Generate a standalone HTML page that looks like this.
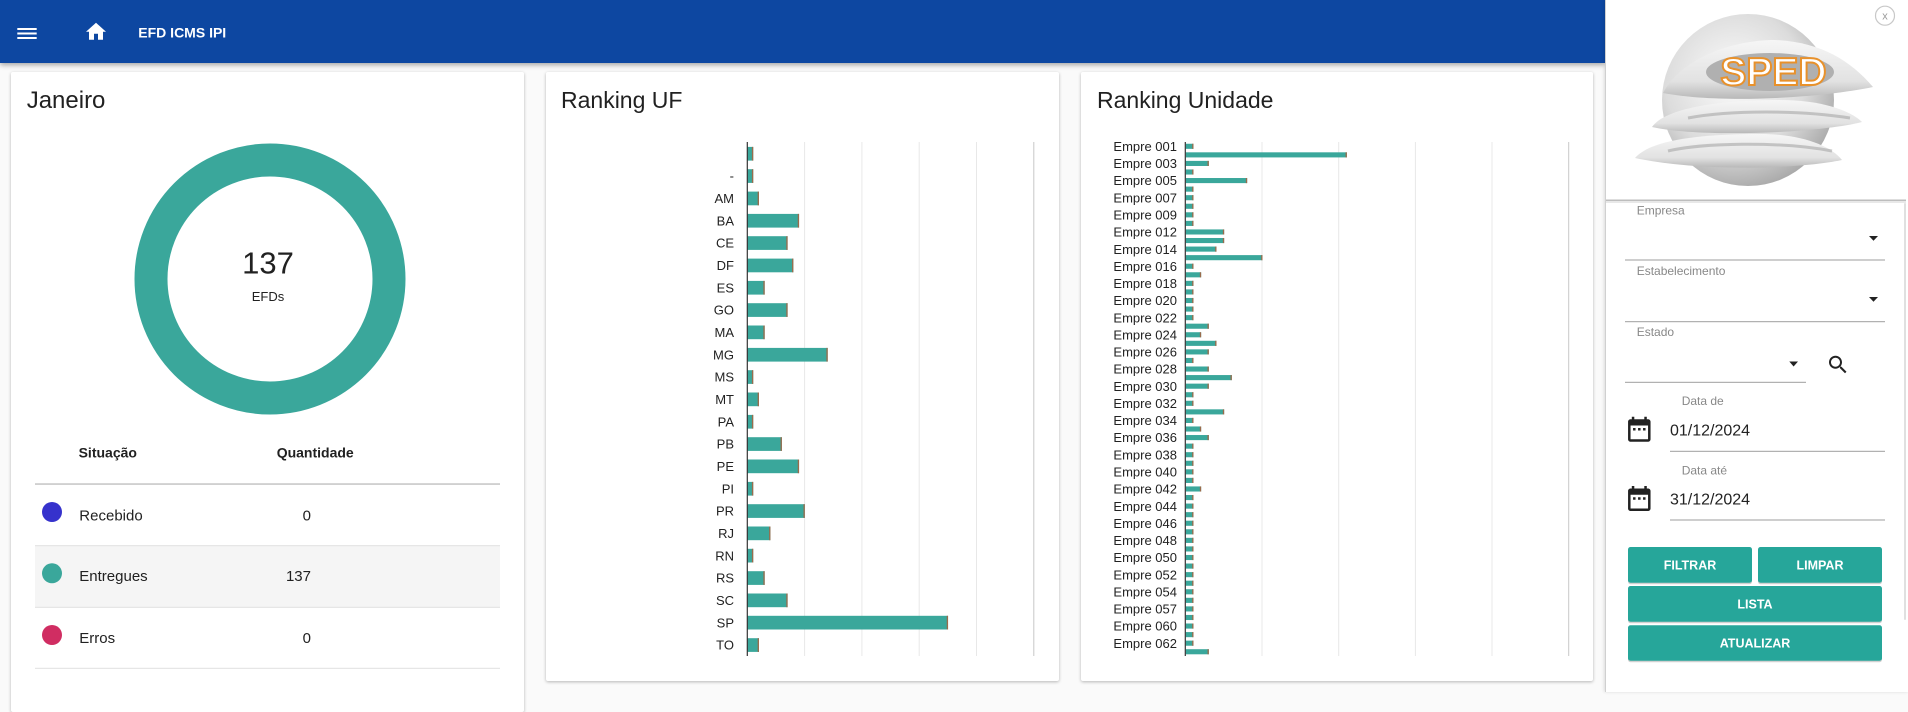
<!DOCTYPE html>
<html><head><meta charset="utf-8">
<style>
html,body{margin:0;padding:0}
body{width:1908px;height:692px;overflow:hidden;background:#fafafa;position:relative;font-family:"Liberation Sans",sans-serif}
.hdr{position:absolute;left:0;top:0;width:1605px;height:63px;background:#0d47a1;box-shadow:0 2px 5px rgba(0,0,0,.35);z-index:2}
.card{position:absolute;background:#fff;box-shadow:0 1px 3px rgba(0,0,0,.28);border-radius:2px;z-index:1}
.panel{position:absolute;left:1605px;top:0;width:303px;height:692px;background:#fff;border-left:1px solid #d0d0d0;box-shadow:-1px 0 3px rgba(0,0,0,.12);z-index:3}
svg.ov{position:absolute;left:0;top:0;z-index:5}
</style></head><body>
<div class="hdr"></div>
<div class="card" style="left:11px;top:72px;width:513px;height:640px"></div>
<div class="card" style="left:546px;top:72px;width:513px;height:609px"></div>
<div class="card" style="left:1081px;top:72px;width:512px;height:609px"></div>
<div class="panel"></div>
<svg class="ov" width="1908" height="692" viewBox="0 0 1908 692" font-family="Liberation Sans, sans-serif">
<defs>
<radialGradient id="sph" cx="0.42" cy="0.38" r="0.68"><stop offset="0" stop-color="#fdfdfd"/><stop offset="0.6" stop-color="#dcdcdc"/><stop offset="1" stop-color="#a2a2a2"/></radialGradient>
<linearGradient id="band" x1="0" y1="0" x2="0" y2="1"><stop offset="0" stop-color="#f6f6f6"/><stop offset="0.7" stop-color="#e2e2e2"/><stop offset="1" stop-color="#b8b8b8"/></linearGradient>
<clipPath id="plotclip"><rect x="1080" y="142" width="120" height="520"/></clipPath>
</defs>
<!-- header content -->
<rect x="17.3" y="28" width="19.4" height="2" fill="#fff"/>
<rect x="17.3" y="32.5" width="19.4" height="2" fill="#fff"/>
<rect x="17.3" y="37" width="19.4" height="2" fill="#fff"/>
<path transform="translate(84,19.7)" d="M10 20v-6h4v6h5v-8h3L12 3 2 12h3v8z" fill="#fff"/>
<text x="138.3" y="37.3" font-size="14" font-weight="bold" fill="#fff">EFD ICMS IPI</text>

<!-- Janeiro card -->
<text x="26.7" y="108" font-size="24" fill="#212121">Janeiro</text>
<circle cx="270" cy="279" r="119" fill="none" stroke="#3aa79b" stroke-width="33"/>
<text x="268" y="273.3" font-size="31" fill="#212121" text-anchor="middle">137</text>
<text x="268" y="301" font-size="13" fill="#212121" text-anchor="middle">EFDs</text>
<text x="78.6" y="457.3" font-size="14" font-weight="bold" fill="#212121">Situação</text>
<text x="276.7" y="457.3" font-size="14" font-weight="bold" fill="#212121">Quantidade</text>
<rect x="35" y="483.3" width="465" height="1.5" fill="#c4c4c4"/>
<rect x="35" y="545.7" width="465" height="61.6" fill="#f5f5f5"/>
<rect x="35" y="545.2" width="465" height="1" fill="#e0e0e0"/>
<rect x="35" y="606.8" width="465" height="1" fill="#e0e0e0"/>
<rect x="35" y="667.8" width="465" height="1" fill="#e0e0e0"/>
<circle cx="52" cy="512" r="10" fill="#3632cc"/>
<circle cx="52" cy="573.3" r="10" fill="#3aa79b"/>
<circle cx="52" cy="635" r="10" fill="#d02d62"/>
<text x="79.3" y="520.3" font-size="15" fill="#212121">Recebido</text>
<text x="79.3" y="581" font-size="15" fill="#212121">Entregues</text>
<text x="79.3" y="643" font-size="15" fill="#212121">Erros</text>
<text x="311" y="520.3" font-size="15" fill="#212121" text-anchor="end">0</text>
<text x="311" y="581" font-size="15" fill="#212121" text-anchor="end">137</text>
<text x="311" y="643" font-size="15" fill="#212121" text-anchor="end">0</text>

<!-- Ranking UF -->
<text x="561" y="108" font-size="23" fill="#212121">Ranking UF</text>
<g stroke-width="1">
<line x1="804.6" y1="142" x2="804.6" y2="656" stroke="#e8e8e8"/>
<line x1="861.9" y1="142" x2="861.9" y2="656" stroke="#e8e8e8"/>
<line x1="919.2" y1="142" x2="919.2" y2="656" stroke="#e8e8e8"/>
<line x1="976.5" y1="142" x2="976.5" y2="656" stroke="#e8e8e8"/>
<line x1="1033.8" y1="142" x2="1033.8" y2="656" stroke="#c8c8c8"/>
</g>
<g transform="translate(747.5,0)">
<g fill="#3aa79b">
<rect y="146.9" height="13.7" width="5.73"/><rect y="169.2" height="13.7" width="5.73"/><rect y="191.6" height="13.7" width="11.46"/><rect y="213.9" height="13.7" width="51.57"/><rect y="236.2" height="13.7" width="40.11"/><rect y="258.6" height="13.7" width="45.84"/><rect y="280.9" height="13.7" width="17.19"/><rect y="303.2" height="13.7" width="40.11"/><rect y="325.5" height="13.7" width="17.19"/><rect y="347.9" height="13.7" width="80.22"/><rect y="370.2" height="13.7" width="5.73"/><rect y="392.5" height="13.7" width="11.46"/><rect y="414.9" height="13.7" width="5.73"/><rect y="437.2" height="13.7" width="34.38"/><rect y="459.5" height="13.7" width="51.57"/><rect y="481.9" height="13.7" width="5.73"/><rect y="504.2" height="13.7" width="57.3"/><rect y="526.5" height="13.7" width="22.92"/><rect y="548.8" height="13.7" width="5.73"/><rect y="571.2" height="13.7" width="17.19"/><rect y="593.5" height="13.7" width="40.11"/><rect y="615.8" height="13.7" width="200.55"/><rect y="638.2" height="13.7" width="11.46"/>
</g>
<g fill="#9b6b4b">
<rect x="4.43" y="146.9" height="13.7" width="1.3"/><rect x="4.43" y="169.2" height="13.7" width="1.3"/><rect x="10.16" y="191.6" height="13.7" width="1.3"/><rect x="50.27" y="213.9" height="13.7" width="1.3"/><rect x="38.81" y="236.2" height="13.7" width="1.3"/><rect x="44.54" y="258.6" height="13.7" width="1.3"/><rect x="15.89" y="280.9" height="13.7" width="1.3"/><rect x="38.81" y="303.2" height="13.7" width="1.3"/><rect x="15.89" y="325.5" height="13.7" width="1.3"/><rect x="78.92" y="347.9" height="13.7" width="1.3"/><rect x="4.43" y="370.2" height="13.7" width="1.3"/><rect x="10.16" y="392.5" height="13.7" width="1.3"/><rect x="4.43" y="414.9" height="13.7" width="1.3"/><rect x="33.08" y="437.2" height="13.7" width="1.3"/><rect x="50.27" y="459.5" height="13.7" width="1.3"/><rect x="4.43" y="481.9" height="13.7" width="1.3"/><rect x="56" y="504.2" height="13.7" width="1.3"/><rect x="21.62" y="526.5" height="13.7" width="1.3"/><rect x="4.43" y="548.8" height="13.7" width="1.3"/><rect x="15.89" y="571.2" height="13.7" width="1.3"/><rect x="38.81" y="593.5" height="13.7" width="1.3"/><rect x="199.25" y="615.8" height="13.7" width="1.3"/><rect x="10.16" y="638.2" height="13.7" width="1.3"/>
</g>
</g>
<line x1="747.3" y1="142" x2="747.3" y2="656" stroke="#333" stroke-width="1.2"/>
<g font-size="13" fill="#222" text-anchor="end">
<text x="734" y="180.65">-</text><text x="734" y="203.05">AM</text><text x="734" y="225.35">BA</text><text x="734" y="247.65">CE</text><text x="734" y="270.05">DF</text><text x="734" y="292.35">ES</text><text x="734" y="314.65">GO</text><text x="734" y="336.95">MA</text><text x="734" y="359.35">MG</text><text x="734" y="381.65">MS</text><text x="734" y="403.95">MT</text><text x="734" y="426.35">PA</text><text x="734" y="448.65">PB</text><text x="734" y="470.95">PE</text><text x="734" y="493.35">PI</text><text x="734" y="515.65">PR</text><text x="734" y="537.95">RJ</text><text x="734" y="560.25">RN</text><text x="734" y="582.65">RS</text><text x="734" y="604.95">SC</text><text x="734" y="627.25">SP</text><text x="734" y="649.65">TO</text>
</g>

<!-- Ranking Unidade -->
<text x="1097" y="108" font-size="23" fill="#212121">Ranking Unidade</text>
<line x1="1262" y1="142" x2="1262" y2="656" stroke="#e8e8e8"/>
<line x1="1338.7" y1="142" x2="1338.7" y2="656" stroke="#e8e8e8"/>
<line x1="1415.4" y1="142" x2="1415.4" y2="656" stroke="#e8e8e8"/>
<line x1="1492" y1="142" x2="1492" y2="656" stroke="#e8e8e8"/>
<line x1="1568.7" y1="142" x2="1568.7" y2="656" stroke="#c8c8c8"/>
<g transform="translate(1185.8,0)">
<g fill="#3aa79b">
<rect y="143.75" height="5.1" width="7.67"/><rect y="152.32" height="5.1" width="161.07"/><rect y="160.88" height="5.1" width="23.01"/><rect y="169.45" height="5.1" width="7.67"/><rect y="178.02" height="5.1" width="61.36"/><rect y="186.59" height="5.1" width="7.67"/><rect y="195.15" height="5.1" width="7.67"/><rect y="203.72" height="5.1" width="7.67"/><rect y="212.29" height="5.1" width="7.67"/><rect y="220.85" height="5.1" width="7.67"/>
<rect y="229.42" height="5.1" width="38.35"/><rect y="237.99" height="5.1" width="38.35"/><rect y="246.55" height="5.1" width="30.68"/><rect y="255.12" height="5.1" width="76.7"/><rect y="263.69" height="5.1" width="7.67"/><rect y="272.26" height="5.1" width="15.34"/><rect y="280.82" height="5.1" width="7.67"/><rect y="289.39" height="5.1" width="7.67"/><rect y="297.96" height="5.1" width="7.67"/><rect y="306.52" height="5.1" width="7.67"/>
<rect y="315.09" height="5.1" width="7.67"/><rect y="323.66" height="5.1" width="23.01"/><rect y="332.22" height="5.1" width="15.34"/><rect y="340.79" height="5.1" width="30.68"/><rect y="349.36" height="5.1" width="23.01"/><rect y="357.93" height="5.1" width="7.67"/><rect y="366.49" height="5.1" width="23.01"/><rect y="375.06" height="5.1" width="46.02"/><rect y="383.63" height="5.1" width="23.01"/><rect y="392.19" height="5.1" width="7.67"/>
<rect y="400.76" height="5.1" width="7.67"/><rect y="409.33" height="5.1" width="38.35"/><rect y="417.89" height="5.1" width="7.67"/><rect y="426.46" height="5.1" width="15.34"/><rect y="435.03" height="5.1" width="23.01"/><rect y="443.6" height="5.1" width="7.67"/><rect y="452.16" height="5.1" width="7.67"/><rect y="460.73" height="5.1" width="7.67"/><rect y="469.3" height="5.1" width="7.67"/><rect y="477.86" height="5.1" width="7.67"/>
<rect y="486.43" height="5.1" width="15.34"/><rect y="495" height="5.1" width="7.67"/><rect y="503.56" height="5.1" width="7.67"/><rect y="512.13" height="5.1" width="7.67"/><rect y="520.7" height="5.1" width="7.67"/><rect y="529.27" height="5.1" width="7.67"/><rect y="537.83" height="5.1" width="7.67"/><rect y="546.4" height="5.1" width="7.67"/><rect y="554.97" height="5.1" width="7.67"/><rect y="563.53" height="5.1" width="7.67"/>
<rect y="572.1" height="5.1" width="7.67"/><rect y="580.67" height="5.1" width="7.67"/><rect y="589.23" height="5.1" width="7.67"/><rect y="597.8" height="5.1" width="7.67"/><rect y="606.37" height="5.1" width="7.67"/><rect y="614.94" height="5.1" width="7.67"/><rect y="623.5" height="5.1" width="7.67"/><rect y="632.07" height="5.1" width="7.67"/><rect y="640.64" height="5.1" width="7.67"/><rect y="649.2" height="5.1" width="23.01"/>
</g>
<g fill="#9b6b4b">
<rect x="6.37" y="143.75" height="5.1" width="1.3"/><rect x="159.77" y="152.32" height="5.1" width="1.3"/><rect x="21.71" y="160.88" height="5.1" width="1.3"/><rect x="6.37" y="169.45" height="5.1" width="1.3"/><rect x="60.06" y="178.02" height="5.1" width="1.3"/><rect x="6.37" y="186.59" height="5.1" width="1.3"/><rect x="6.37" y="195.15" height="5.1" width="1.3"/><rect x="6.37" y="203.72" height="5.1" width="1.3"/><rect x="6.37" y="212.29" height="5.1" width="1.3"/><rect x="6.37" y="220.85" height="5.1" width="1.3"/>
<rect x="37.05" y="229.42" height="5.1" width="1.3"/><rect x="37.05" y="237.99" height="5.1" width="1.3"/><rect x="29.38" y="246.55" height="5.1" width="1.3"/><rect x="75.4" y="255.12" height="5.1" width="1.3"/><rect x="6.37" y="263.69" height="5.1" width="1.3"/><rect x="14.04" y="272.26" height="5.1" width="1.3"/><rect x="6.37" y="280.82" height="5.1" width="1.3"/><rect x="6.37" y="289.39" height="5.1" width="1.3"/><rect x="6.37" y="297.96" height="5.1" width="1.3"/><rect x="6.37" y="306.52" height="5.1" width="1.3"/>
<rect x="6.37" y="315.09" height="5.1" width="1.3"/><rect x="21.71" y="323.66" height="5.1" width="1.3"/><rect x="14.04" y="332.22" height="5.1" width="1.3"/><rect x="29.38" y="340.79" height="5.1" width="1.3"/><rect x="21.71" y="349.36" height="5.1" width="1.3"/><rect x="6.37" y="357.93" height="5.1" width="1.3"/><rect x="21.71" y="366.49" height="5.1" width="1.3"/><rect x="44.72" y="375.06" height="5.1" width="1.3"/><rect x="21.71" y="383.63" height="5.1" width="1.3"/><rect x="6.37" y="392.19" height="5.1" width="1.3"/>
<rect x="6.37" y="400.76" height="5.1" width="1.3"/><rect x="37.05" y="409.33" height="5.1" width="1.3"/><rect x="6.37" y="417.89" height="5.1" width="1.3"/><rect x="14.04" y="426.46" height="5.1" width="1.3"/><rect x="21.71" y="435.03" height="5.1" width="1.3"/><rect x="6.37" y="443.6" height="5.1" width="1.3"/><rect x="6.37" y="452.16" height="5.1" width="1.3"/><rect x="6.37" y="460.73" height="5.1" width="1.3"/><rect x="6.37" y="469.3" height="5.1" width="1.3"/><rect x="6.37" y="477.86" height="5.1" width="1.3"/>
<rect x="14.04" y="486.43" height="5.1" width="1.3"/><rect x="6.37" y="495" height="5.1" width="1.3"/><rect x="6.37" y="503.56" height="5.1" width="1.3"/><rect x="6.37" y="512.13" height="5.1" width="1.3"/><rect x="6.37" y="520.7" height="5.1" width="1.3"/><rect x="6.37" y="529.27" height="5.1" width="1.3"/><rect x="6.37" y="537.83" height="5.1" width="1.3"/><rect x="6.37" y="546.4" height="5.1" width="1.3"/><rect x="6.37" y="554.97" height="5.1" width="1.3"/><rect x="6.37" y="563.53" height="5.1" width="1.3"/>
<rect x="6.37" y="572.1" height="5.1" width="1.3"/><rect x="6.37" y="580.67" height="5.1" width="1.3"/><rect x="6.37" y="589.23" height="5.1" width="1.3"/><rect x="6.37" y="597.8" height="5.1" width="1.3"/><rect x="6.37" y="606.37" height="5.1" width="1.3"/><rect x="6.37" y="614.94" height="5.1" width="1.3"/><rect x="6.37" y="623.5" height="5.1" width="1.3"/><rect x="6.37" y="632.07" height="5.1" width="1.3"/><rect x="6.37" y="640.64" height="5.1" width="1.3"/><rect x="21.71" y="649.2" height="5.1" width="1.3"/>
</g>
</g>
<line x1="1185.3" y1="142" x2="1185.3" y2="656" stroke="#333" stroke-width="1.2"/>
<g font-size="13" fill="#222" text-anchor="end" clip-path="url(#plotclip)">
<text x="1177" y="150.95">Empre 001</text><text x="1177" y="168.08">Empre 003</text><text x="1177" y="185.22">Empre 005</text><text x="1177" y="202.35">Empre 007</text><text x="1177" y="219.49">Empre 009</text><text x="1177" y="236.62">Empre 012</text><text x="1177" y="253.75">Empre 014</text><text x="1177" y="270.89">Empre 016</text><text x="1177" y="288.02">Empre 018</text><text x="1177" y="305.16">Empre 020</text><text x="1177" y="322.29">Empre 022</text><text x="1177" y="339.42">Empre 024</text><text x="1177" y="356.56">Empre 026</text><text x="1177" y="373.69">Empre 028</text><text x="1177" y="390.83">Empre 030</text><text x="1177" y="407.96">Empre 032</text><text x="1177" y="425.09">Empre 034</text><text x="1177" y="442.23">Empre 036</text><text x="1177" y="459.36">Empre 038</text><text x="1177" y="476.5">Empre 040</text><text x="1177" y="493.63">Empre 042</text><text x="1177" y="510.76">Empre 044</text><text x="1177" y="527.9">Empre 046</text><text x="1177" y="545.03">Empre 048</text><text x="1177" y="562.17">Empre 050</text><text x="1177" y="579.3">Empre 052</text><text x="1177" y="596.43">Empre 054</text><text x="1177" y="613.57">Empre 057</text><text x="1177" y="630.7">Empre 060</text><text x="1177" y="647.84">Empre 062</text>
</g>

<!-- Right panel: logo -->
<circle cx="1748" cy="100" r="86" fill="url(#sph)"/>
<path d="M1635,158 C1650,140 1700,134 1760,134 C1800,134 1830,145 1842,160 C1800,169 1700,172 1635,158 Z" fill="url(#band)"/>
<path d="M1668,151 C1700,143 1780,141 1832,151" stroke="#a0a0a0" stroke-width="3" fill="none" opacity=".55"/>
<path d="M1652,127 C1665,108 1720,100 1780,100 C1820,100 1850,110 1862,122 C1820,133 1700,138 1652,127 Z" fill="url(#band)"/>
<path d="M1688,118 C1730,110 1800,110 1850,118" stroke="#a0a0a0" stroke-width="3" fill="none" opacity=".55"/>
<path d="M1663,93 C1680,60 1730,40 1775,40 C1820,42 1850,60 1873,87 C1820,98 1720,104 1663,93 Z" fill="url(#band)"/>
<ellipse cx="1770" cy="72" rx="64" ry="19" fill="#b0b0b0"/>
<text x="1773.5" y="85" font-size="39" font-weight="bold" text-anchor="middle" fill="#fff" stroke="#e8912b" stroke-width="2">SPED</text>
<circle cx="1885" cy="15.7" r="9.5" fill="#fff" stroke="#c8c8c8" stroke-width="1.2"/>
<text x="1885" y="19.7" font-size="11" fill="#999" text-anchor="middle">x</text>
<rect x="1606" y="199.5" width="300" height="1.5" fill="#bdbdbd"/>
<rect x="1606" y="201" width="300" height="2" fill="#e8e8e8"/>
<rect x="1904" y="203" width="2" height="417" rx="1" fill="#e0e0e0"/>

<!-- form -->
<g font-size="12" fill="#888">
<text x="1636.7" y="214.3">Empresa</text>
<text x="1636.7" y="275">Estabelecimento</text>
<text x="1636.7" y="336">Estado</text>
<text x="1681.7" y="405">Data de</text>
<text x="1681.7" y="474.3">Data até</text>
</g>
<g fill="#222">
<polygon points="1869,236 1878,236 1873.5,240.7"/>
<polygon points="1869,297 1878,297 1873.5,301.7"/>
<polygon points="1789.3,361.5 1798,361.5 1793.6,366.5"/>
</g>
<rect x="1625" y="259.5" width="260" height="1" fill="#9e9e9e"/>
<rect x="1625" y="321.2" width="260" height="1" fill="#9e9e9e"/>
<rect x="1625" y="381.8" width="181" height="1" fill="#9e9e9e"/>
<rect x="1670" y="450.8" width="215" height="1" fill="#9e9e9e"/>
<rect x="1670" y="519.5" width="215" height="1" fill="#9e9e9e"/>
<path transform="translate(1826,352.7)" fill="#222" d="M15.5 14h-.79l-.28-.27C15.41 12.59 16 11.110 16 9.5 16 5.91 13.09 3 9.5 3S3 5.91 3 9.5 5.91 16 9.5 16c1.61 0 3.090-.59 4.23-1.57l.27.28v.79l5 4.99L20.49 19l-4.99-5zm-6 0C7.01 14 5 11.99 5 9.5S7.01 5 9.5 5 14 7.01 14 9.5 11.99 14 9.5 14z"/>
<path transform="translate(1624.3,414.2) scale(1.25)" fill="#222" d="M9 11H7v2h2v-2zm4 0h-2v2h2v-2zm4 0h-2v2h2v-2zm2-7h-1V2h-2v2H8V2H6v2H5c-1.11 0-1.99.9-1.99 2L3 20c0 1.1.89 2 2 2h14c1.1 0 2-.9 2-2V6c0-1.1-.9-2-2-2zm0 16H5V9h14v11z"/>
<path transform="translate(1624.3,483.5) scale(1.25)" fill="#222" d="M9 11H7v2h2v-2zm4 0h-2v2h2v-2zm4 0h-2v2h2v-2zm2-7h-1V2h-2v2H8V2H6v2H5c-1.11 0-1.99.9-1.99 2L3 20c0 1.1.89 2 2 2h14c1.1 0 2-.9 2-2V6c0-1.1-.9-2-2-2zm0 16H5V9h14v11z"/>
<text x="1670" y="435.7" font-size="16" fill="#222">01/12/2024</text>
<text x="1670" y="504.7" font-size="16" fill="#222">31/12/2024</text>

<!-- buttons -->
<g fill="rgba(0,0,0,0.18)">
<rect x="1628" y="548.5" width="124" height="35.7" rx="2.5"/>
<rect x="1758" y="548.5" width="124" height="35.7" rx="2.5"/>
<rect x="1628" y="587.5" width="254" height="35.7" rx="2.5"/>
<rect x="1628" y="626.8" width="254" height="35.4" rx="2.5"/>
</g>
<g fill="#26a69a">
<rect x="1628" y="547" width="124" height="35.7" rx="2.5"/>
<rect x="1758" y="547" width="124" height="35.7" rx="2.5"/>
<rect x="1628" y="586" width="254" height="35.7" rx="2.5"/>
<rect x="1628" y="625.3" width="254" height="35.4" rx="2.5"/>
</g>
<g font-size="12.5" font-weight="bold" fill="#fff" text-anchor="middle">
<text x="1690" y="569.3">FILTRAR</text>
<text x="1820" y="569.3">LIMPAR</text>
<text x="1755" y="608.3">LISTA</text>
<text x="1755" y="647.3">ATUALIZAR</text>
</g>
</svg>
</body></html>
